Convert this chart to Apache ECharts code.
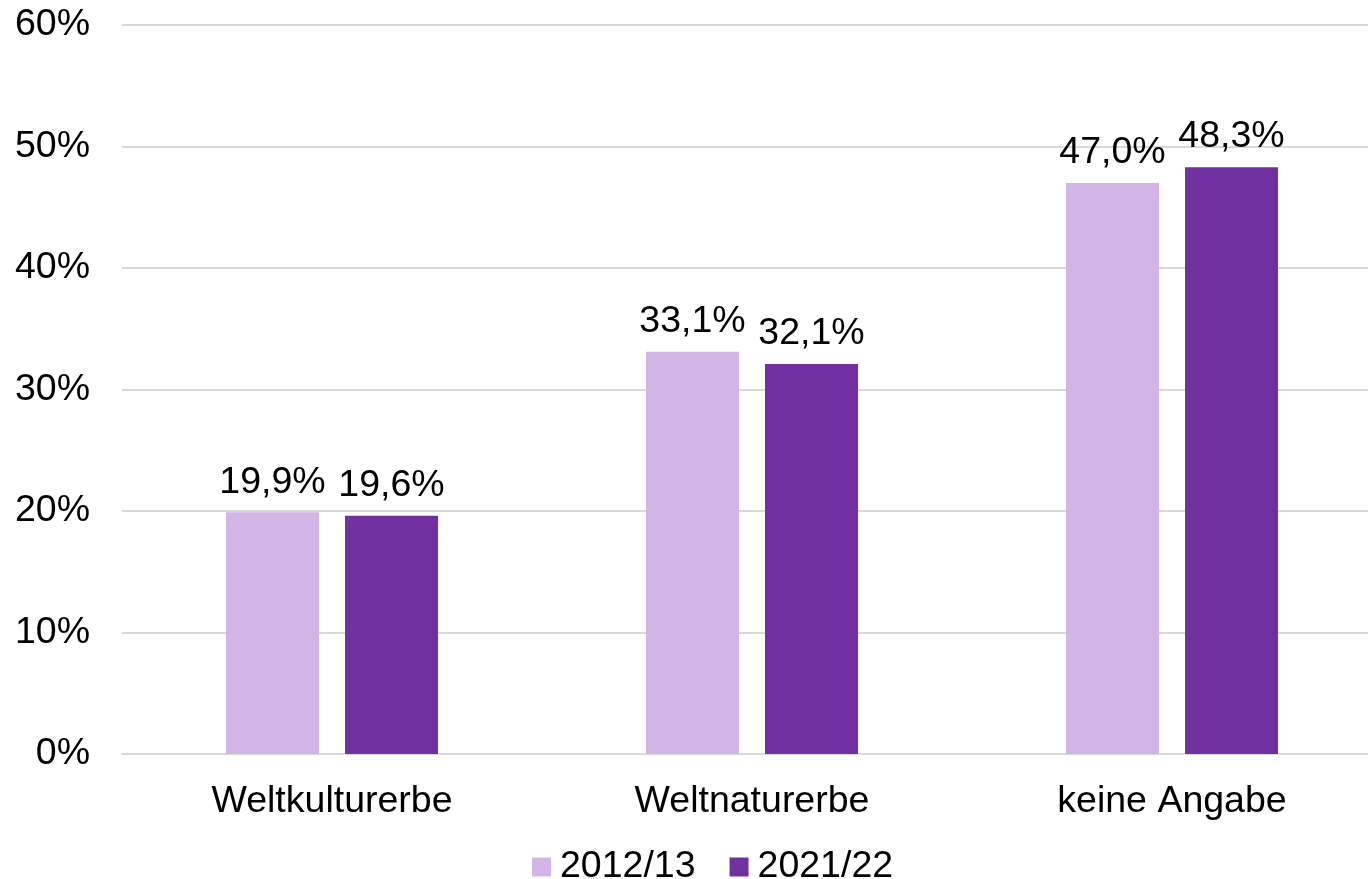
<!DOCTYPE html>
<html>
<head>
<meta charset="utf-8">
<script src="https://cdn.jsdelivr.net/npm/echarts@6/dist/echarts.min.js"></script>
<style>html,body{margin:0;padding:0;background:#fff;overflow:hidden;width:1368px;height:879px}#c{width:1382px;height:879px}</style>
</head>
<body>
<div id="c"></div>
<script>
const categories = ['Weltkulturerbe', 'Weltnaturerbe', 'keine Angabe'];
const seriesNames = ['2012/13', '2021/22'];
const values2012 = [19.9, 33.1, 47.0];
const values2021 = [19.6, 32.1, 48.3];
const yTicks = [0, 10, 20, 30, 40, 50, 60];

const colors = ['#d4b5e8', '#7030a0'];
const font = 'Liberation Sans, Arial, sans-serif';
const fmt = v => v.toFixed(1).replace('.', ',') + '%';

const chart = echarts.init(document.getElementById('c'), null, {renderer: 'canvas'});
const mkSeries = (name, data, color) => ({
  name, type: 'bar', data,
  barWidth: 93, barGap: '28%',
  itemStyle: {color},
  label: {show: true, position: 'top', distance: 11, color: '#000', fontFamily: font, fontSize: 37.5,
    formatter: p => fmt(p.value)}
});
chart.setOption({
  animation: false,
  textStyle: {fontFamily: font},
  grid: {left: 122, top: 25, right: 0, bottom: 125, containLabel: false},
  legend: {
    data: seriesNames, left: 527, top: 843,
    itemWidth: 19, itemHeight: 19, itemGap: 34, icon: 'rect',
    textStyle: {fontFamily: font, fontSize: 37.5, color: '#000', padding: [0,0,0,4]}
  },
  xAxis: {
    type: 'category', data: categories,
    axisLine: {show: true, lineStyle: {color: '#d9d9d9', width: 2}},
    axisTick: {show: false},
    axisLabel: {color: '#000', fontFamily: font, fontSize: 37.5, margin: 29}
  },
  yAxis: {
    type: 'value', min: yTicks[0], max: yTicks[yTicks.length - 1], interval: 10,
    axisLine: {show: false}, axisTick: {show: false},
    splitLine: {lineStyle: {color: '#d9d9d9', width: 2}},
    axisLabel: {color: '#000', fontFamily: font, fontSize: 37.5, margin: 32, formatter: v => v + '%'}
  },
  series: [mkSeries(seriesNames[0], values2012, colors[0]), mkSeries(seriesNames[1], values2021, colors[1])]
});
</script>
</body>
</html>
